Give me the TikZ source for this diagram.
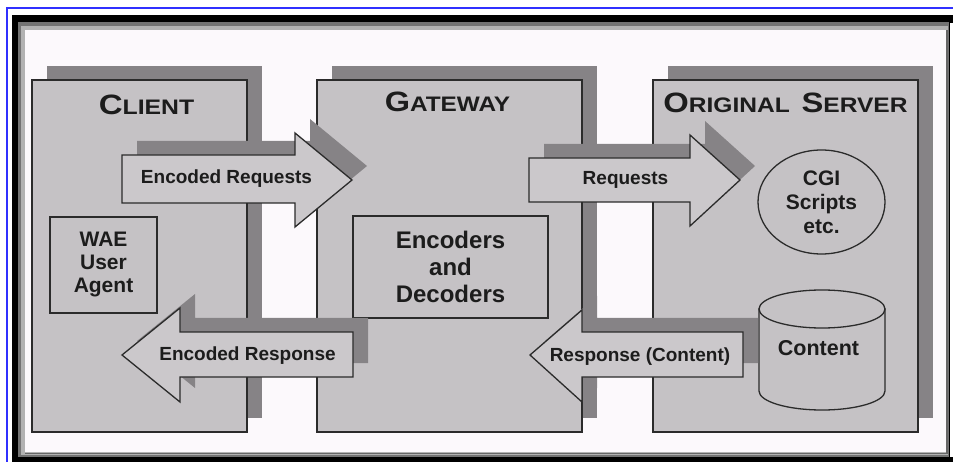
\documentclass[tikz,border=0pt]{standalone}
\usepackage{fontspec}
\setmainfont{Liberation Sans}
\usepackage{graphicx}
\usetikzlibrary{shadows,shapes.geometric}

\definecolor{bgc}{HTML}{FCF9FC}
\definecolor{boxfill}{HTML}{C5C2C5}
\definecolor{shadowc}{HTML}{868386}
\definecolor{arrowfill}{HTML}{CBC8CB}
\definecolor{linec}{HTML}{2B2B2B}
\definecolor{txtc}{HTML}{1C1C1C}
\definecolor{rulec}{HTML}{3030FF}

% block arrow: dark offset copy first, then the outlined arrow itself
\newcommand\blockarrow[1]{%
  \fill[shadowc, shift={(15,-14)}] #1;
  \filldraw[fill=arrowfill, draw=linec, line width=1.3pt, line join=miter] #1;}

% title lettering: large initial capitals, smaller remaining capitals
\newcommand\initcap[1]{{\fontsize{28}{28}\selectfont #1}}
\newcommand\restcaps[1]{{\fontsize{21}{21}\selectfont #1}}

\tikzset{
  frontbox/.style={draw=linec, line width=1.3pt, fill=boxfill, inner sep=0pt,
    drop shadow={shadow xshift=15pt, shadow yshift=14pt, fill=shadowc, opacity=1}},
  innerbox/.style={draw=linec, line width=1.3pt, fill=boxfill, inner sep=0pt,
    align=center, text=txtc},
  titletext/.style={font=\bfseries, text=txtc, inner sep=0pt, anchor=base},
  lbl/.style={font=\fontsize{19}{23}\selectfont\bfseries, text=txtc, inner sep=0pt, anchor=base},
}

\begin{document}
\begin{tikzpicture}[x=1pt, y=-1pt]
\useasboundingbox (0,0) rectangle (953,462);
\fill[white] (0,0) rectangle (953,462);

% outer blue rule
\draw[rulec, line width=1.2pt] (7,462) -- (7,8) -- (953,8);

% bevelled black frame
\fill[black] (12,15) rectangle (953,462);
\fill[white] (950,23) rectangle (953,457);
\fill[black!55] (18,22) rectangle (949,457);
\fill[black!30] (21,26) rectangle (948,455);
\fill[bgc] (25,30) rectangle (946,452);
\draw[black!60, line width=1.5pt] (25,453.5) -- (947,453.5) -- (947,30);

% the three tiers
\node[frontbox, minimum width=215, minimum height=352] (client) at (139.5,256) {};
\node[frontbox, minimum width=265, minimum height=352] (gateway) at (449.5,256) {};
\node[frontbox, minimum width=265, minimum height=352] (server) at (785.5,256) {};

\node[titletext] (clienttitle) at (146.5,115)
  {\scalebox{1.18}[1]{\initcap{C}\restcaps{LIENT}}};
\node[titletext] (gatewaytitle) at (447.5,112)
  {\scalebox{1.16}[1]{\initcap{G}\restcaps{ATEWAY}}};
\node[titletext] (servertitle) at (785.5,113)
  {\scalebox{1.17}[1]{\initcap{O}\restcaps{RIGINAL}\hspace{10pt}\initcap{S}\restcaps{ERVER}}};

% components inside the tiers
\node[innerbox, minimum width=107, minimum height=96,
      font=\fontsize{21}{23}\selectfont\bfseries] (wae) at (103.5,265) {WAE\\User\\Agent};
\node[innerbox, minimum width=195, minimum height=102,
      font=\fontsize{24}{27}\selectfont\bfseries] (codec) at (450.5,267) {Encoders\\and\\Decoders};
\node[innerbox, ellipse, minimum width=127, minimum height=104,
      font=\fontsize{21}{24}\selectfont\bfseries] (cgi) at (821.5,202) {CGI\\Scripts\\etc.};

% content store (cylinder)
\filldraw[fill=boxfill, draw=linec, line width=1.3pt]
  (759,309) -- (759,391) arc[start angle=180, end angle=0, x radius=63, y radius=19]
  -- (885,309) -- cycle;
\filldraw[fill=boxfill, draw=linec, line width=1.3pt] (822,309) ellipse [x radius=63, y radius=19];
\node[lbl, font=\fontsize{21.5}{24}\selectfont\bfseries] (content) at (818.5,355) {Content};

% request / response arrows
\blockarrow{(122,155) -- (295,155) -- (295,133) -- (352,180) -- (295,227) -- (295,203) -- (122,203) -- cycle}
\node[lbl] (encreq) at (226.5,184) {Encoded Requests};

\blockarrow{(529,158) -- (690,158) -- (690,135) -- (740,180) -- (690,226) -- (690,202) -- (529,202) -- cycle}
\node[lbl] (req) at (625.5,185) {Requests};

\blockarrow{(353,332) -- (180,332) -- (180,308) -- (122,355) -- (180,402) -- (180,377) -- (353,377) -- cycle}
\node[lbl] (encresp) at (247.5,360) {Encoded Response};

\blockarrow{(743,332) -- (582,332) -- (582,310) -- (530,355) -- (582,402) -- (582,377) -- (743,377) -- cycle}
\node[lbl] (resp) at (640,361) {Response (Content)};
\end{tikzpicture}
\end{document}
